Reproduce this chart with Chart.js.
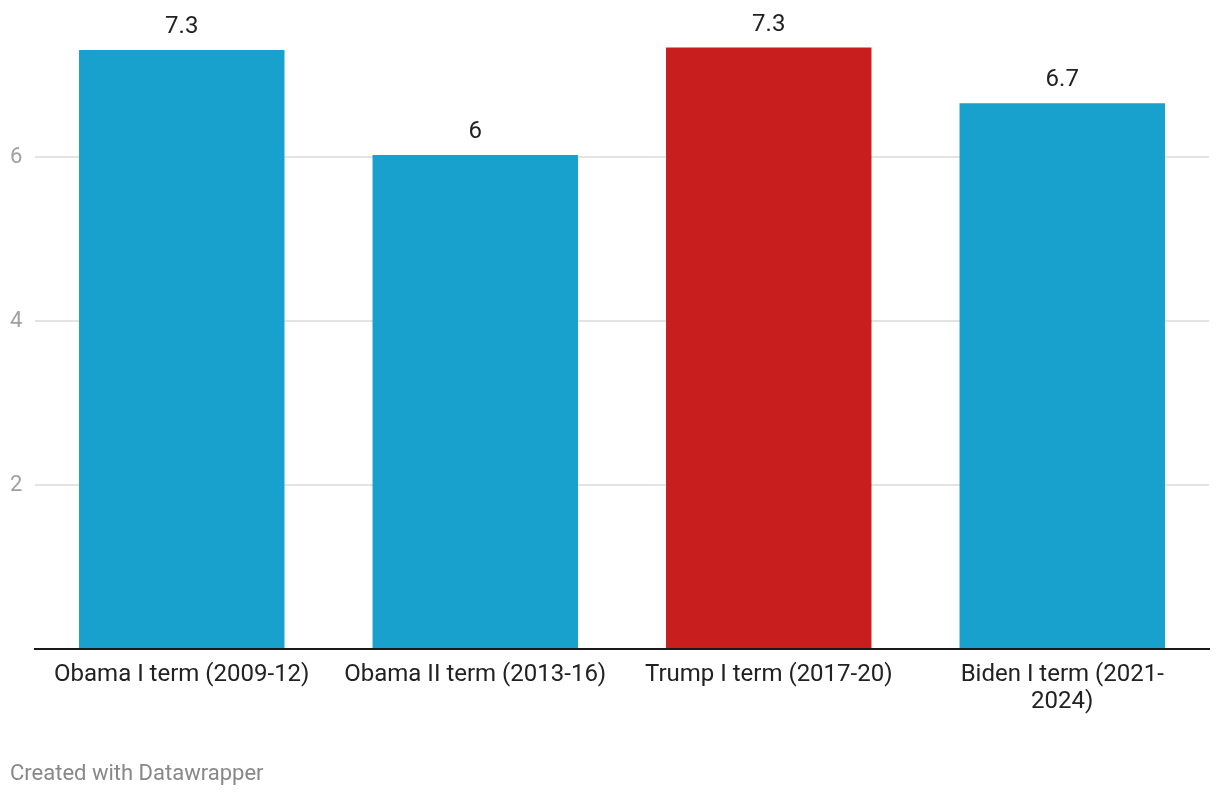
<!DOCTYPE html>
<html>
<head>
<meta charset="utf-8">
<script src="https://cdn.jsdelivr.net/npm/chart.js@4"></script>
<style>
  html, body { margin: 0; padding: 0; background: #fff; }
  #wrap { position: relative; width: 1220px; height: 796px; }
  #footer {
    position: absolute; left: 10px; top: 760px;
    font-family: Roboto, sans-serif; font-size: 22px; line-height: 26px; color: #888;
  }
</style>
</head>
<body>
<div id="wrap">
  <canvas id="chart" width="1220" height="796"></canvas>
  <div id="footer">Created with Datawrapper</div>
</div>
<script>
const labels = [
  'Obama I term (2009-12)',
  'Obama II term (2013-16)',
  'Trump I term (2017-20)',
  ['Biden I term (2021-', '2024)']
];
const values = [7.31, 6.03, 7.34, 6.66];
const colors = ['#19a1cd', '#19a1cd', '#c81e1e', '#19a1cd'];
const yTicks = [0, 2, 4, 6];

function fmt(v) {
  const r = Math.round(v * 10) / 10;
  return String(r);
}

// value labels above the bars
const valueLabels = {
  id: 'valueLabels',
  afterDatasetsDraw(chart) {
    const ctx = chart.ctx;
    const meta = chart.getDatasetMeta(0);
    ctx.save();
    ctx.font = '24px Roboto';
    ctx.fillStyle = '#222';
    ctx.textAlign = 'center';
    ctx.textBaseline = 'alphabetic';
    meta.data.forEach((bar, i) => {
      ctx.fillText(fmt(values[i]), bar.x, bar.y - 17);
    });
    ctx.restore();
  }
};

const ctx = document.getElementById('chart');
new Chart(ctx, {
  type: 'bar',
  data: {
    labels: labels,
    datasets: [{
      data: values,
      backgroundColor: colors,
      categoryPercentage: 1,
      barPercentage: 0.7
    }]
  },
  options: {
    responsive: false,
    animation: false,
    layout: { padding: { left: 10, right: 11, top: 10, bottom: 67 } },
    plugins: {
      legend: { display: false },
      tooltip: { enabled: false }
    },
    scales: {
      x: {
        grid: { display: false, drawTicks: false },
        border: { display: true, color: '#1a1a1a', width: 2 },
        ticks: {
          color: '#222',
          font: { family: 'Roboto', size: 24, lineHeight: 1.1 },
          padding: 13,
          maxRotation: 0,
          autoSkip: false
        },
        afterFit(scale) { scale.height = 80; }
      },
      y: {
        min: 0,
        max: 7.76,
        afterBuildTicks(scale) { scale.ticks = yTicks.map(v => ({ value: v })); },
        grid: {
          drawTicks: false,
          color: c => c.tick && c.tick.value === 0 ? 'rgba(0,0,0,0)' : '#e3e3e3',
          lineWidth: 2
        },
        border: { display: false },
        ticks: {
          color: '#a0a0a0',
          font: { family: 'Roboto', size: 22 },
          crossAlign: 'far',
          padding: 0,
          callback: v => v === 0 ? '' : v
        },
        afterFit(scale) { scale.width = 25; }
      }
    }
  },
  plugins: [valueLabels]
});
</script>
</body>
</html>
